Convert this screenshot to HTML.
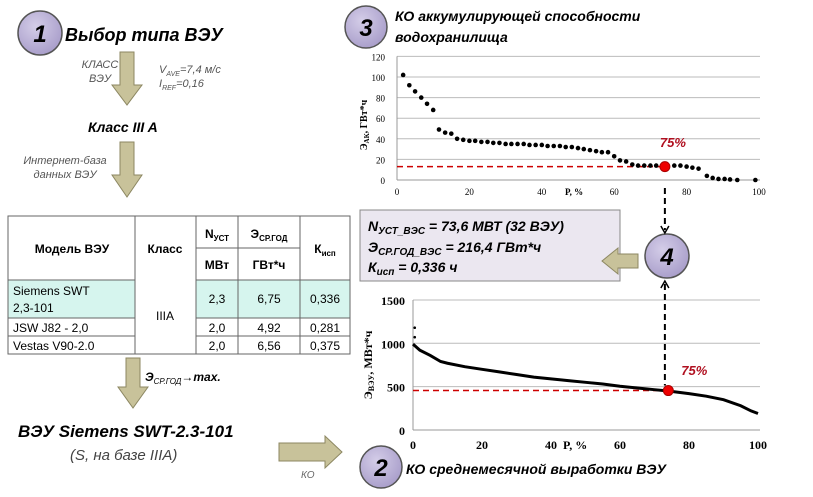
<!DOCTYPE html>
<html><head><meta charset="utf-8">
<style>
body{margin:0;background:#fff;width:813px;height:492px;overflow:hidden;font-family:"Liberation Sans",sans-serif}
svg text{font-family:"Liberation Sans",sans-serif}
.ser{font-family:"Liberation Serif",serif}
.bi{font-weight:bold;font-style:italic}
</style></head><body>
<svg id="s" width="813" height="492" viewBox="0 0 813 492" xmlns="http://www.w3.org/2000/svg">
<defs>
<radialGradient id="cg" cx="40%" cy="35%" r="70%"><stop offset="0" stop-color="#d4cde8"/><stop offset="1" stop-color="#a79cc9"/></radialGradient>
</defs>
<!-- circles -->
<g><circle cx="40" cy="33" r="22" fill="url(#cg)" stroke="#555" stroke-width="1.5"/><text x="40" y="42" text-anchor="middle" font-size="24" class="bi">1</text></g>
<text x="65" y="41" font-size="18" class="bi">Выбор типа ВЭУ</text>
<g><polygon points="120,52 134,52 134,85 142,85 127,105 112,85 120,85" fill="#c8c29a" stroke="#8c8762"/></g>
<text x="100" y="68" font-size="11" font-style="italic" fill="#555" text-anchor="middle">КЛАСС</text>
<text x="100" y="82" font-size="11" font-style="italic" fill="#555" text-anchor="middle">ВЭУ</text>
<text x="159" y="73" font-size="11" font-style="italic" fill="#555">V<tspan font-size="7" dy="3">AVE</tspan><tspan dy="-3">=7,4 м/с</tspan></text>
<text x="159" y="87" font-size="11" font-style="italic" fill="#555">I<tspan font-size="7" dy="3">REF</tspan><tspan dy="-3">=0,16</tspan></text>
<text x="88" y="132" font-size="14" class="bi">Класс III A</text>
<g><polygon points="120,142 134,142 134,175 142,175 127,197 112,175 120,175" fill="#c8c29a" stroke="#8c8762"/></g>
<text x="65" y="164" font-size="11" font-style="italic" fill="#555" text-anchor="middle">Интернет-база</text>
<text x="65" y="178" font-size="11" font-style="italic" fill="#555" text-anchor="middle">данных ВЭУ</text>
<!-- table -->
<g font-size="12">
<rect x="8" y="216" width="342" height="138" fill="#fff" stroke="#666"/>
<rect x="8" y="280" width="127" height="38" fill="#d6f5ee"/>
<rect x="196" y="280" width="154" height="38" fill="#d6f5ee"/>
<g stroke="#666" fill="none">
<line x1="8" y1="280" x2="135" y2="280"/><line x1="196" y1="280" x2="350" y2="280"/>
<line x1="196" y1="248" x2="300" y2="248"/>
<line x1="8" y1="318" x2="135" y2="318"/><line x1="196" y1="318" x2="350" y2="318"/>
<line x1="8" y1="336" x2="135" y2="336"/><line x1="196" y1="336" x2="350" y2="336"/>
<line x1="135" y1="216" x2="135" y2="354"/><line x1="196" y1="216" x2="196" y2="354"/>
<line x1="238" y1="216" x2="238" y2="354"/><line x1="300" y1="216" x2="300" y2="354"/>
<rect x="8" y="216" width="342" height="138"/>
</g>
<text x="72" y="253" text-anchor="middle" font-weight="bold">Модель ВЭУ</text>
<text x="165" y="253" text-anchor="middle" font-weight="bold">Класс</text>
<text x="217" y="238" text-anchor="middle" font-weight="bold">N<tspan font-size="8" dy="3">УСТ</tspan></text>
<text x="217" y="269" text-anchor="middle" font-weight="bold">МВт</text>
<text x="269" y="238" text-anchor="middle" font-weight="bold">Э<tspan font-size="8" dy="3">СР.ГОД</tspan></text>
<text x="269" y="269" text-anchor="middle" font-weight="bold">ГВт*ч</text>
<text x="325" y="253" text-anchor="middle" font-weight="bold">К<tspan font-size="8" dy="3">исп</tspan></text>
<text x="13" y="295">Siemens SWT</text><text x="13" y="312">2,3-101</text>
<text x="165" y="320" text-anchor="middle">IIIA</text>
<text x="217" y="303" text-anchor="middle">2,3</text><text x="269" y="303" text-anchor="middle">6,75</text><text x="325" y="303" text-anchor="middle">0,336</text>
<text x="13" y="332">JSW J82 - 2,0</text><text x="217" y="332" text-anchor="middle">2,0</text><text x="269" y="332" text-anchor="middle">4,92</text><text x="325" y="332" text-anchor="middle">0,281</text>
<text x="13" y="350">Vestas V90-2.0</text><text x="217" y="350" text-anchor="middle">2,0</text><text x="269" y="350" text-anchor="middle">6,56</text><text x="325" y="350" text-anchor="middle">0,375</text>
</g>
<g><polygon points="126,358 140,358 140,387 148,387 133,408 118,387 126,387" fill="#c8c29a" stroke="#8c8762"/></g>
<text x="145" y="381" font-size="12" class="bi">Э<tspan font-size="8" dy="3" font-weight="normal">СР.ГОД</tspan><tspan dy="-3">→max.</tspan></text>
<text x="18" y="437" font-size="17" class="bi">ВЭУ Siemens SWT-2.3-101</text>
<text x="70" y="460" font-size="15" font-style="italic" fill="#444">(S, на базе IIIA)</text>
<g><polygon points="279,443 325,443 325,436 342,452 325,468 325,461 279,461" fill="#c8c29a" stroke="#8c8762"/></g>
<text x="301" y="478" font-size="10" font-style="italic" fill="#666">КО</text>
<g><circle cx="381" cy="467" r="21" fill="url(#cg)" stroke="#555" stroke-width="1.5"/><text x="381" y="476" text-anchor="middle" font-size="24" class="bi">2</text></g>
<text x="406" y="474" font-size="14" class="bi">КО среднемесячной выработки ВЭУ</text>
<g><circle cx="366" cy="27" r="21" fill="url(#cg)" stroke="#555" stroke-width="1.5"/><text x="366" y="36" text-anchor="middle" font-size="24" class="bi">3</text></g>
<text x="395" y="21" font-size="14" class="bi">КО аккумулирующей способности</text>
<text x="395" y="42" font-size="14" class="bi">водохранилища</text>
<!-- result box -->
<g>
<rect x="360" y="210" width="260" height="71" fill="#ebe7f0" stroke="#888"/>
<text x="368" y="231" font-size="14" class="bi">N<tspan font-size="10" dy="3">УСТ_ВЭС</tspan><tspan dy="-3"> = 73,6 МВТ (32 ВЭУ)</tspan></text>
<text x="368" y="252" font-size="14" class="bi">Э<tspan font-size="10" dy="3">СР.ГОД_ВЭС</tspan><tspan dy="-3"> = 216,4 ГВт*ч</tspan></text>
<text x="368" y="272" font-size="14" class="bi">К<tspan font-size="10" dy="3">исп</tspan><tspan dy="-3"> = 0,336 ч</tspan></text>
</g>
<g><polygon points="638,254 618,254 618,248 602,261 618,274 618,268 638,268" fill="#c8c29a" stroke="#8c8762"/></g>
<g><circle cx="667" cy="256" r="22" fill="url(#cg)" stroke="#555" stroke-width="1.5"/><text x="667" y="265" text-anchor="middle" font-size="24" class="bi">4</text></g>
<g id="top"></g>
<g id="bot"></g>
</svg>
<script>
const topX=[1.7,3.4,5.0,6.7,8.3,10,11.6,13.3,15,16.6,18.3,20,21.6,23.3,25,26.6,28.3,30,31.6,33.3,35,36.6,38.3,40,41.6,43.3,45,46.6,48.3,50,51.6,53.3,55,56.6,58.3,60,61.6,63.3,65,66.6,68.3,70,71.6,73.3,76.6,78.3,80,81.6,83.3,85.6,87.2,88.8,90.5,92,94,99];
const topY=[102,92,86,80,74,68,49,46,45,40,39,38,38,37,37,36,36,35,35,35,35,34,34,34,33,33,33,32,32,31,30,29,28,27,27,23,19,18,15,14,14,14,14,14,14,14,13,12,11,4,2,1,1,0.5,0,0];
const topTicksY=[0,20,40,60,80,100,120];
const ticksX=[0,20,40,60,80,100];
const botX=[0,2,5,8,10,15,20,25,30,35,40,45,50,55,60,65,70,74,80,85,90,95,98,100];
const botY=[990,920,860,790,770,730,700,670,640,610,590,570,550,530,505,485,465,450,420,390,350,280,220,190];
const botTicksY=[0,500,1000,1500];
const botOutliersX=[0.5,0.5];
const botOutliersY=[1180,1070];
const markP=[74];
const topMarkY=[13];
const botMarkY=[455];
const NS="http://www.w3.org/2000/svg";
function mk(p,t,a){const e=document.createElementNS(NS,t);for(const k in a)e.setAttribute(k,a[k]);p.appendChild(e);return e;}
// top chart
const T=document.getElementById('top');
const tx=v=>397+v*3.62, ty=v=>180-v*1.03;
topTicksY.forEach(v=>{if(v>0){const l=mk(T,'line',{x1:397,x2:760,y1:ty(v),y2:ty(v),stroke:'#bbb'});

}
const t=mk(T,'text',{x:385,y:ty(v)+4,'font-size':9,'text-anchor':'end',class:'ser'});t.textContent=v;

});
mk(T,'line',{x1:397,x2:760,y1:ty(0),y2:ty(0),stroke:'#999'});
mk(T,'line',{x1:397,x2:397,y1:ty(0),y2:ty(120),stroke:'#999'});
ticksX.forEach(v=>{const t=mk(T,'text',{x:tx(v),y:195,'font-size':9,'text-anchor':'middle',class:'ser'});t.textContent=v;

});
let xl=mk(T,'text',{x:565,y:195,'font-size':9,'font-weight':'bold',class:'ser'});xl.textContent='P, %';


let yl=mk(T,'text',{transform:'translate(367,125) rotate(-90)','font-size':10,'font-weight':'bold','text-anchor':'middle',class:'ser'});yl.innerHTML='Э<tspan font-size="7" dy="2">АК</tspan><tspan dy="-2">, ГВт*ч</tspan>';


mk(T,'line',{x1:397,x2:tx(markP[0]),y1:ty(topMarkY[0]),y2:ty(topMarkY[0]),stroke:'#c00','stroke-width':1.5,'stroke-dasharray':'6,4'});
topX.forEach((x,i)=>{const c=mk(T,'circle',{cx:tx(x),cy:ty(topY[i]),r:2.3,fill:'#000'});

});
let rp=mk(T,'circle',{cx:tx(markP[0]),cy:ty(topMarkY[0]),r:5,fill:'#e00',stroke:'#a00'});


let lb=mk(T,'text',{x:tx(markP[0])-5,y:147,'font-size':13,fill:'#b01020',class:'bi'});lb.textContent='75%';


// bottom chart
const B=document.getElementById('bot');
const bx=v=>413+v*3.45, by=v=>430-v*0.0867;
botTicksY.forEach(v=>{if(v>0){const l=mk(B,'line',{x1:413,x2:760,y1:by(v),y2:by(v),stroke:'#bbb'});

}
const t=mk(B,'text',{x:405,y:by(v)+5,'font-size':12,'font-weight':'bold','text-anchor':'end',class:'ser'});t.textContent=v;

});
mk(B,'line',{x1:413,x2:760,y1:by(0),y2:by(0),stroke:'#999'});
mk(B,'line',{x1:413,x2:413,y1:by(0),y2:by(1500),stroke:'#999'});
ticksX.forEach(v=>{const t=mk(B,'text',{x:bx(v),y:449,'font-size':12,'font-weight':'bold','text-anchor':'middle',class:'ser'});t.textContent=v;

});
let bxl=mk(B,'text',{x:563,y:449,'font-size':12,'font-weight':'bold',class:'ser'});bxl.textContent='P, %';


let byl=mk(B,'text',{transform:'translate(372,365) rotate(-90)','font-size':12,'font-weight':'bold','text-anchor':'middle',class:'ser'});byl.innerHTML='Э<tspan font-size="8" dy="2">ВЭУ</tspan><tspan dy="-2">, МВт*ч</tspan>';


mk(B,'line',{x1:413,x2:bx(markP[0]),y1:by(botMarkY[0]),y2:by(botMarkY[0]),stroke:'#c00','stroke-width':1.5,'stroke-dasharray':'6,4'});
let pl=mk(B,'polyline',{points:botX.map((x,i)=>bx(x)+','+by(botY[i])).join(' '),fill:'none',stroke:'#000','stroke-width':3});


botOutliersX.forEach((x,i)=>{const c=mk(B,'circle',{cx:bx(x),cy:by(botOutliersY[i]),r:1.3,fill:'#000'});

});
let brp=mk(B,'circle',{cx:bx(markP[0]),cy:by(botMarkY[0]),r:5,fill:'#e00',stroke:'#a00'});


let blb=mk(B,'text',{x:bx(markP[0])+13,y:375,'font-size':13,fill:'#b01020',class:'bi'});blb.textContent='75%';


// connector dashed lines
const S=document.getElementById('s');
const cx=tx(markP[0]);
let d1=mk(S,'line',{x1:cx,x2:cx,y1:188,y2:230,stroke:'#000','stroke-width':2,'stroke-dasharray':'6,4'});


mk(S,'polyline',{points:`${cx-4},226 ${cx},233 ${cx+4},226`,fill:'none',stroke:'#000','stroke-width':1.5});
let d2=mk(S,'line',{x1:cx,x2:cx,y1:284,y2:by(botMarkY[0])-5,stroke:'#000','stroke-width':2,'stroke-dasharray':'6,4'});


mk(S,'polyline',{points:`${cx-4},288 ${cx},281 ${cx+4},288`,fill:'none',stroke:'#000','stroke-width':1.5});
</script>
</body></html>
